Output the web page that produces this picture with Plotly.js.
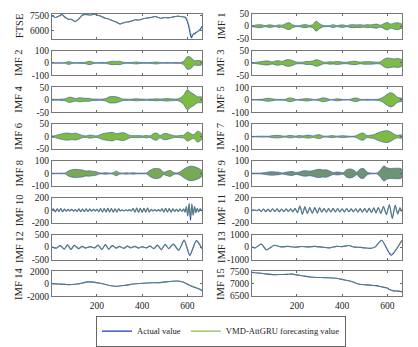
<!DOCTYPE html>
<html>
<head>
<meta charset="utf-8">
<script src="https://cdn.plot.ly/plotly-3.0.1.min.js"></script>
<style>body{margin:0;background:#fff}#chart{width:418px;height:347px}</style>
</head>
<body>
<div id="chart"></div>
<script>
// sample positions for the envelope of the fast IMFs
var t = [1,15,30,45,60,75,90,105,120,135,150,165,180,195,210,225,240,255,270,285,300,315,330,345,360,375,390,405,420,435,450,465,480,495,510,525,540,555,570,585,600,615,630,645,660,665];

// envelope (half amplitude)
var env1 = [2,4,6,5,2,5,4,2,5,4,10,14,6,2,2,5,6,3,6,20,10,3,2,2,6,2,4,5,2,5,6,5,6,4,6,5,7,8,4,10,15,8,12,14,10,8];
var env2 = [2,2,2,2,3,12,4,2,3,4,6,14,8,2,3,4,3,10,14,12,14,6,3,3,5,8,4,3,3,3,6,8,3,2,3,2,3,4,4,15,50,45,18,20,18,12];
var env3 = [2,2,4,6,8,8,4,8,9,6,12,13,10,4,3,3,6,6,8,13,10,4,3,5,4,6,5,3,3,5,7,6,3,5,5,5,4,3,5,15,20,18,16,18,15,12];
var env4 = [2,2,2,3,4,10,9,5,8,7,6,6,3,3,2,3,5,12,13,12,8,3,3,2,3,4,3,3,2,3,3,4,3,4,5,4,3,3,8,20,40,30,22,12,12,10];
var env5 = [2,2,3,4,10,12,8,3,3,3,5,15,12,3,3,6,10,8,3,3,8,16,12,3,3,8,6,2,2,3,12,14,4,3,4,3,3,4,10,25,45,57,45,20,15,10];
var env6 = [3,4,8,11,14,14,12,14,10,5,3,6,5,3,6,12,14,16,17,12,14,16,12,5,4,4,4,3,5,3,12,14,5,12,12,8,4,3,5,6,18,12,8,22,15,10];
var env7 = [2,2,3,4,3,3,8,10,10,6,4,10,8,4,10,6,10,12,6,12,16,5,4,6,8,4,6,8,5,3,3,10,25,28,8,12,15,28,38,45,47,38,20,10,14,10];
var env8 = [2,2,2,3,4,22,30,33,30,28,20,22,18,15,5,4,6,3,5,18,6,3,6,3,6,3,3,3,5,25,38,40,35,10,18,24,8,4,15,35,50,58,55,45,30,20];
var env9 = [2,3,3,4,8,12,14,12,10,4,10,14,16,8,12,20,22,18,22,30,33,28,30,20,8,12,10,6,30,36,28,10,36,39,12,4,3,4,30,60,45,40,42,42,40,30];

// FTSE index
var ftseX = [1,8,16,24,31,38,45,52,60,68,75,82,90,97,104,112,119,127,134,141,149,160,171,182,193,204,215,226,237,248,259,270,282,293,304,315,326,337,348,359,370,381,392,403,415,426,437,448,459,470,481,492,503,514,525,536,548,559,570,578,585,592,599,603,607,611,614,618,621,624,629,633,636,640,644,648,651,655,658,662,665];
var ftseActual = [7500,7450,7340,7420,7500,7560,7670,7520,7340,7250,7110,7180,7110,7000,6900,7050,7170,7380,7570,7620,7670,7620,7600,7650,7670,7580,7500,7380,7270,7200,7110,7000,6900,6780,6670,6760,6840,6880,6940,7020,7110,7080,7110,7200,7270,7300,7340,7400,7440,7350,7270,7300,7340,7300,7340,7400,7440,7480,7440,7420,7400,7340,7010,6700,6340,5900,5500,5240,5350,5500,5680,5620,5750,5800,5840,5900,5980,6050,6110,6300,6440];
var ftseForecast = [7500,7450,7340,7420,7500,7560,7670,7520,7340,7250,7110,7180,7110,7000,6900,7050,7170,7380,7570,7620,7670,7620,7600,7650,7670,7580,7500,7380,7270,7200,7110,7000,6900,6780,6670,6760,6840,6880,6940,7020,7110,7080,7110,7200,7270,7300,7340,7400,7440,7350,7270,7300,7340,7300,7340,7400,7440,7480,7440,7420,7400,7360,7150,6900,6600,6200,5850,5550,5450,5480,5600,5680,5700,5780,5820,5870,5950,6020,6080,6200,6350];

// IMF 10 (turning points)
var imf10X = [1,8,16,24,32,40,48,56,64,72,80,88,96,104,112,120,128,136,144,152,160,168,176,184,192,200,208,216,224,232,240,248,256,264,272,280,288,296,304,312,320,328,336,344,352,360,368,376,384,392,400,408,416,424,432,440,448,456,464,472,480,488,496,504,512,520,528,536,544,552,560,568,576,584,590,596,602,608,614,620,626,632,638,644,650,657,665];
var imf10Actual = [0,22,-25,24,-20,26,-24,20,-15,14,-12,15,-14,12,-20,22,-24,20,-22,24,-20,18,-14,15,-12,14,-22,28,-30,26,-28,30,-26,28,-30,25,-28,24,-12,8,-10,9,-8,10,-12,26,-30,34,-32,30,-34,32,-30,34,-28,14,-12,10,-12,12,-14,24,-28,30,-26,28,-30,24,-18,16,-20,18,-16,20,-30,60,-90,110,-160,100,-80,60,-40,30,-25,22,-10];
var imf10Forecast = [0,22,-25,24,-20,26,-24,20,-15,14,-12,15,-14,12,-20,22,-24,20,-22,24,-20,18,-14,15,-12,14,-22,28,-30,26,-28,30,-26,28,-30,25,-28,24,-12,8,-10,9,-8,10,-12,26,-30,34,-32,30,-34,32,-30,34,-28,14,-12,10,-12,12,-14,24,-28,30,-26,28,-30,24,-18,16,-20,18,-16,20,-28,55,-80,95,-110,95,-75,55,-40,30,-25,22,-10];

// IMF 11
var imf11X = [1,12,22,32,42,52,62,72,82,92,102,112,122,132,142,152,162,172,182,192,202,213,224,235,246,257,268,279,290,300,310,320,330,340,350,360,370,380,390,400,410,420,430,440,450,460,470,480,490,500,510,520,530,540,550,560,571,583,596,609,622,635,646,656,665];
var imf11Actual = [0,5,-8,15,-18,20,-22,20,-22,24,-20,22,-24,20,-22,24,-20,22,-25,30,-40,70,-65,55,-50,45,-48,42,-45,38,-30,28,-30,26,-28,30,-26,28,-25,24,-26,28,-24,22,-25,24,-28,26,-30,28,-32,30,-35,38,-40,45,-50,60,-70,90,-130,80,-60,40,-20];
var imf11Forecast = [0,5,-8,15,-18,20,-22,20,-22,24,-20,22,-24,20,-22,24,-20,22,-25,30,-40,68,-63,55,-50,45,-48,42,-45,38,-30,28,-30,26,-28,30,-26,28,-25,24,-26,28,-24,22,-25,24,-28,26,-30,28,-32,30,-35,38,-40,45,-50,58,-68,85,-115,78,-60,40,-20];

// IMF 12
var imf12X = [1,20,38,55,70,85,100,118,135,150,170,190,205,222,237,252,268,285,300,318,335,350,368,385,400,418,435,452,468,485,502,518,538,562,586,611,640,665];
var imf12Actual = [0,-40,60,-80,90,-90,70,-60,30,-40,20,-30,80,-100,100,-80,60,-40,30,-50,40,-30,30,-40,20,-30,40,-60,80,-100,110,-60,120,-120,280,-330,260,-60];
var imf12Forecast = [0,-40,60,-80,90,-90,70,-60,30,-40,20,-30,80,-100,100,-80,60,-40,30,-50,40,-30,30,-40,20,-30,40,-60,80,-100,110,-60,120,-120,270,-290,250,-60];

// IMF 13
var imf13X = [1,15,42,65,100,130,160,190,220,250,280,310,345,375,400,430,455,480,500,525,545,575,617,665];
var imf13Actual = [0,-60,250,-220,150,20,60,-10,50,20,60,0,-60,60,40,130,0,-20,-60,-100,0,550,-650,550];
var imf13Forecast = [0,-60,250,-220,150,20,60,-10,50,20,60,0,-60,60,40,130,0,-20,-60,-100,0,520,-560,540];

// IMF 14
var imf14X = [1,30,67,111,163,214,250,287,320,361,420,478,552,581,610,625,655,665];
var imf14Actual = [50,0,-100,-20,330,100,-200,-370,-250,-20,150,220,480,300,-200,-450,-850,-1050];
var imf14Forecast = [50,0,-100,-20,330,100,-200,-370,-250,-20,150,220,480,300,-190,-430,-800,-950];

// IMF 15
var imf15X = [1,20,38,60,96,130,155,180,199,230,258,290,317,340,361,385,405,430,449,465,478,508,530,552,575,596,612,625,645,665];
var imf15Actual = [7480,7470,7450,7420,7390,7395,7400,7410,7380,7330,7290,7270,7265,7260,7250,7220,7180,7130,7080,7020,6990,6960,6940,6930,6880,6840,6760,6720,6700,6680];
var imf15Forecast = [7500,7480,7455,7425,7392,7395,7402,7408,7382,7332,7292,7270,7266,7258,7250,7222,7182,7128,7078,7022,6990,6962,6940,6928,6882,6838,6765,6722,6702,6685];

var xTicks = [200, 400, 600];
var seriesNames = ['Actual value', 'VMD-AttGRU forecasting value'];

var W = 418, H = 347;
var FONT = 'Liberation Serif, Times New Roman, serif';
var blue = '#1f35d0';
var greenLine = 'rgba(125,185,55,0.55)';
var greenLegend = '#8dbb4c';
var edge = '#4563a6';

var colPx = [[52, 202], [252, 402]];
var labelPx = [19, 221];
var rowTop = 14, rowPitch = 37.7, rowH = 25.5;

// label, column, row, y range, y ticks, content
var panels = [
  {label: 'FTSE', col: 0, row: 0, yr: [5140, 7740], yt: [6000, 7500], line: [ftseX, ftseActual, ftseForecast]},
  {label: 'IMF 1', col: 1, row: 0, yr: [-50, 50], yt: [-50, 0, 50], band: env1},
  {label: 'IMF 2', col: 0, row: 1, yr: [-100, 100], yt: [-100, 0, 100], band: env2},
  {label: 'IMF 3', col: 1, row: 1, yr: [-50, 50], yt: [-50, 0, 50], band: env3},
  {label: 'IMF 4', col: 0, row: 2, yr: [-50, 50], yt: [-50, 0, 50], band: env4},
  {label: 'IMF 5', col: 1, row: 2, yr: [-100, 100], yt: [-100, 0, 100], band: env5},
  {label: 'IMF 6', col: 0, row: 3, yr: [-50, 50], yt: [-50, 0, 50], band: env6},
  {label: 'IMF 7', col: 1, row: 3, yr: [-100, 100], yt: [-100, 0, 100], band: env7},
  {label: 'IMF 8', col: 0, row: 4, yr: [-100, 100], yt: [-100, 0, 100], band: env8, fill: '#78aa55'},
  {label: 'IMF 9', col: 1, row: 4, yr: [-100, 100], yt: [-100, 0, 100], band: env9, fill: '#6f9474'},
  {label: 'IMF 10', col: 0, row: 5, yr: [-200, 200], yt: [-200, 0, 200], line: [imf10X, imf10Actual, imf10Forecast]},
  {label: 'IMF 11', col: 1, row: 5, yr: [-200, 200], yt: [-200, 0, 200], line: [imf11X, imf11Actual, imf11Forecast]},
  {label: 'IMF 12', col: 0, row: 6, yr: [-500, 500], yt: [-500, 0, 500], line: [imf12X, imf12Actual, imf12Forecast]},
  {label: 'IMF 13', col: 1, row: 6, yr: [-1000, 1000], yt: [-1000, 0, 1000], line: [imf13X, imf13Actual, imf13Forecast]},
  {label: 'IMF 14', col: 0, row: 7, yr: [-2000, 2000], yt: [-2000, 0, 2000], line: [imf14X, imf14Actual, imf14Forecast]},
  {label: 'IMF 15', col: 1, row: 7, yr: [6480, 7520], yt: [6500, 7000, 7500], line: [imf15X, imf15Actual, imf15Forecast]}
];

var data = [];
var layout = {
  width: W, height: H, autosize: false,
  margin: {l: 0, r: 0, t: 0, b: 0},
  paper_bgcolor: '#fff', plot_bgcolor: '#fff',
  font: {family: FONT, size: 9, color: '#222'},
  showlegend: true,
  legend: {
    orientation: 'h', x: 96 / W, y: 1 - 323 / H, xanchor: 'left', yanchor: 'top',
    bordercolor: '#666', borderwidth: 1, bgcolor: '#fff',
    font: {family: FONT, size: 8.6, color: '#222'},
    itemwidth: 30, tracegroupgap: 0
  },
  annotations: []
};

panels.forEach(function(p, i) {
  var k = i + 1;
  var xa = k === 1 ? 'x' : 'x' + k;
  var ya = k === 1 ? 'y' : 'y' + k;
  var top = rowTop + p.row * rowPitch;
  var bot = top + rowH;

  layout['xaxis' + (k === 1 ? '' : k)] = {
    domain: [colPx[p.col][0] / W, colPx[p.col][1] / W],
    anchor: ya, range: [1, 665],
    tickvals: xTicks, showticklabels: p.row === 7,
    ticks: 'inside', ticklen: 2, tickcolor: '#666',
    showline: true, mirror: 'ticks', linecolor: '#777', linewidth: 1,
    showgrid: false, zeroline: false,
    tickfont: {family: FONT, size: 9.5, color: '#222'}
  };
  layout['yaxis' + (k === 1 ? '' : k)] = {
    domain: [1 - bot / H, 1 - top / H],
    anchor: xa, range: p.yr,
    tickvals: p.yt, ticktext: p.yt.map(String),
    ticks: 'inside', ticklen: 2, tickcolor: '#666',
    showline: true, mirror: 'ticks', linecolor: '#777', linewidth: 1,
    showgrid: false, zeroline: false,
    tickfont: {family: FONT, size: 9.5, color: '#222'}
  };

  layout.annotations.push({
    text: p.label, xref: 'paper', yref: 'paper',
    x: labelPx[p.col] / W, y: 1 - (top + bot) / 2 / H,
    textangle: -90, showarrow: false, xanchor: 'center', yanchor: 'middle',
    font: {family: FONT, size: 10.5, color: '#222'}
  });

  if (p.band) {
    var neg = p.band.map(function(v) { return -v; }).reverse();
    data.push({
      x: t.concat(t.slice().reverse()), y: p.band.concat(neg),
      xaxis: xa, yaxis: ya, mode: 'lines', fill: 'toself',
      fillcolor: p.fill || '#7dbb42',
      line: {color: edge, width: 0.7, shape: 'spline', smoothing: 1},
      hoverinfo: 'skip', showlegend: false
    });
  } else {
    data.push({
      x: p.line[0], y: p.line[1], xaxis: xa, yaxis: ya, mode: 'lines',
      line: {color: blue, width: 1.1, shape: 'spline', smoothing: 0.6},
      hoverinfo: 'skip', showlegend: false
    });
    data.push({
      x: p.line[0], y: p.line[2], xaxis: xa, yaxis: ya, mode: 'lines',
      line: {color: greenLine, width: 1.1, shape: 'spline', smoothing: 0.6},
      hoverinfo: 'skip', showlegend: false
    });
  }
});

// legend entries
data.push({x: [null], y: [null], mode: 'lines', name: seriesNames[0], line: {color: blue, width: 1.2}});
data.push({x: [null], y: [null], mode: 'lines', name: seriesNames[1], line: {color: greenLegend, width: 1.2}});

Plotly.newPlot('chart', data, layout, {displayModeBar: false, staticPlot: true});
</script>
</body>
</html>
